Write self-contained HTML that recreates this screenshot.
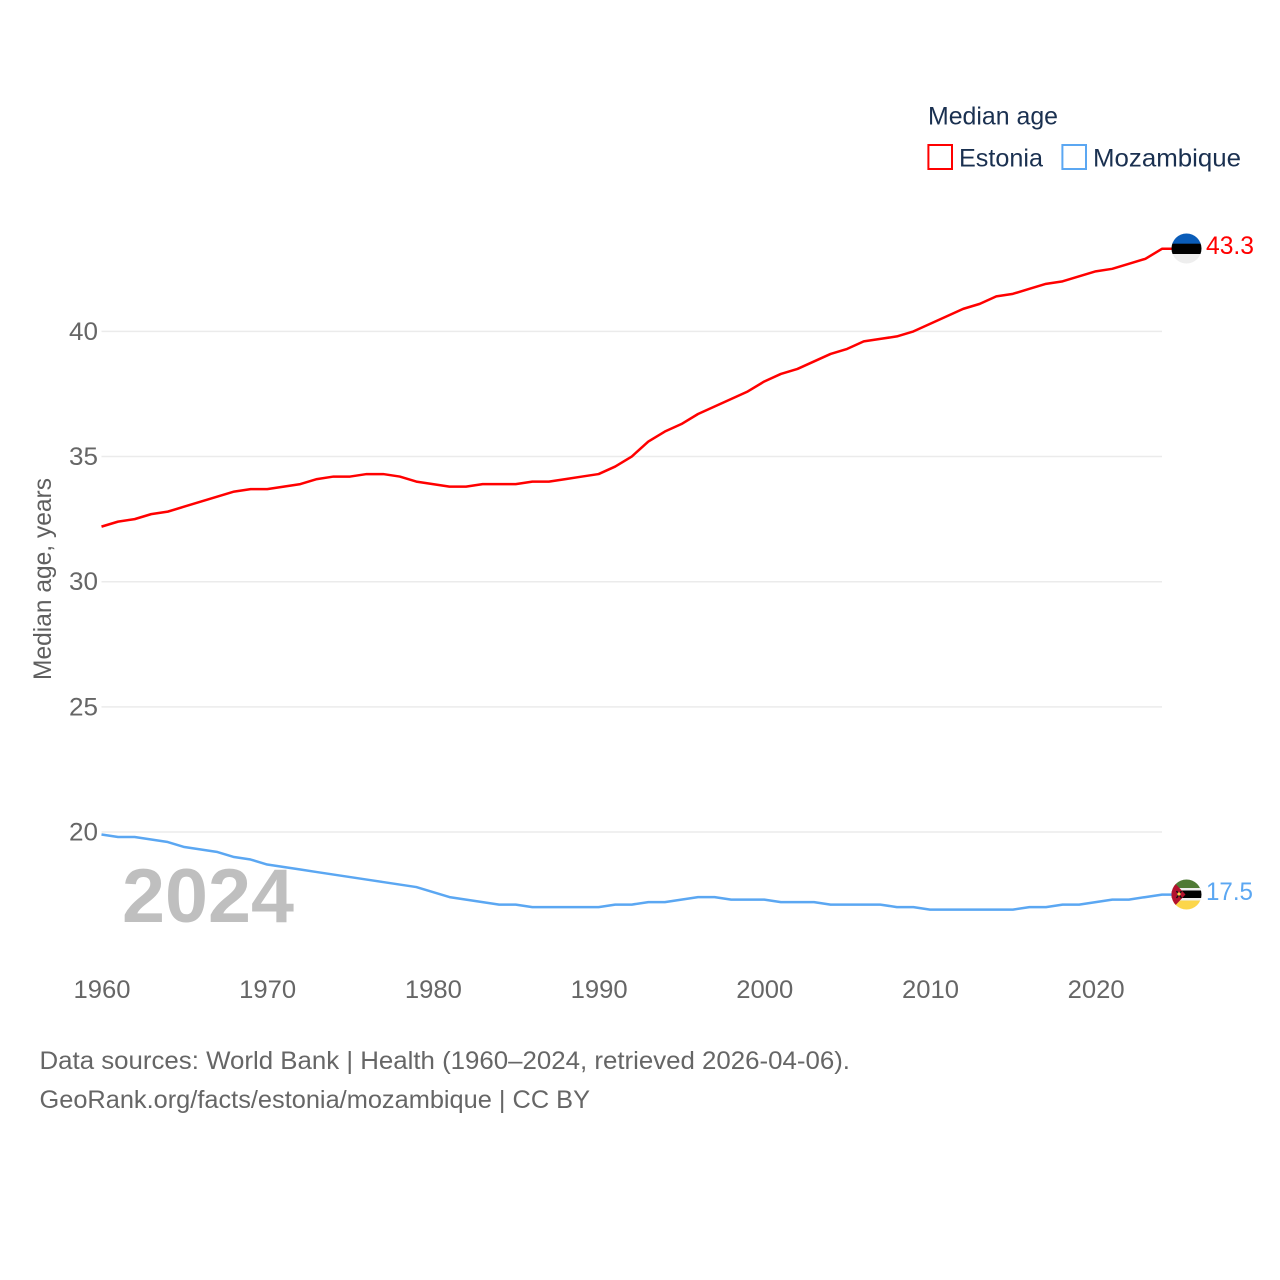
<!DOCTYPE html>
<html lang="en">
<head>
<meta charset="utf-8">
<title>Median age: Estonia and Mozambique</title>
<style>
html,body{margin:0;padding:0;background:#fff;}
svg{display:block;}
text{font-family:"Liberation Sans",sans-serif;}
</style>
</head>
<body>
<svg id="chart" xmlns="http://www.w3.org/2000/svg" width="1280" height="1280" viewBox="0 0 1280 1280">
  <rect x="0" y="0" width="1280" height="1280" fill="#fff"/>
  <defs>
    <clipPath id="clip-ee"><circle cx="1186.5" cy="248.5" r="15"/></clipPath>
    <clipPath id="clip-mz"><circle cx="1186.5" cy="894.5" r="15"/></clipPath>
  </defs>
  <g id="grid"></g>
  <g id="yticks"></g>
  <g id="xticks"></g>
  <text x="122" y="922" font-size="76" font-weight="700" fill="#bfbfbf" textLength="172" lengthAdjust="spacingAndGlyphs">2024</text>
  <g id="lines"></g>
  <text transform="translate(51 680) rotate(-90)" font-size="25" fill="#5f5f5f" textLength="202" lengthAdjust="spacingAndGlyphs">Median age, years</text>

  <text x="928" y="124.5" font-size="25" fill="#1a3050" textLength="130" lengthAdjust="spacingAndGlyphs">Median age</text>
  <g>
    <rect x="928.4" y="145" width="23.6" height="24" fill="#fff" stroke="#ff0000" stroke-width="2"/>
    <text x="959" y="166.5" font-size="25" fill="#1a3050" textLength="84" lengthAdjust="spacingAndGlyphs">Estonia</text>
  </g>
  <g>
    <rect x="1062.4" y="145" width="23.6" height="24" fill="#fff" stroke="#5ba7f2" stroke-width="2"/>
    <text x="1093" y="166.5" font-size="25" fill="#1a3050" textLength="148" lengthAdjust="spacingAndGlyphs">Mozambique</text>
  </g>

  <g clip-path="url(#clip-ee)">
    <rect x="1171" y="233" width="31" height="11" fill="#0a5cb8"/>
    <rect x="1171" y="243.7" width="31" height="10.3" fill="#000"/>
    <rect x="1171" y="254" width="31" height="10" fill="#eeeeee"/>
  </g>
  <g clip-path="url(#clip-mz)">
    <rect x="1171" y="879" width="31" height="10" fill="#4f7a35"/>
    <rect x="1171" y="888" width="31" height="3" fill="#eeeeee"/>
    <rect x="1171" y="890.5" width="31" height="7.5" fill="#000"/>
    <rect x="1171" y="898" width="31" height="3" fill="#eeeeee"/>
    <rect x="1171" y="900.5" width="31" height="10" fill="#fcd64a"/>
    <polygon points="1171,879 1185.5,894.5 1171,910" fill="#b3112e"/>
    <path d="M1176.5 891l5 7M1181.5 891l-5 7" stroke="#111" stroke-width="1.4" fill="none"/>
    <circle cx="1179" cy="894" r="1.6" fill="#fcd64a"/>
  </g>
  <text x="1206" y="254" font-size="25" fill="#ff0000" textLength="48" lengthAdjust="spacingAndGlyphs">43.3</text>
  <text x="1206" y="900" font-size="25" fill="#5ba7f2" textLength="47" lengthAdjust="spacingAndGlyphs">17.5</text>

  <text x="39.5" y="1069" font-size="25" fill="#666666" textLength="810.5" lengthAdjust="spacingAndGlyphs">Data sources: World Bank | Health (1960–2024, retrieved 2026-04-06).</text>
  <text x="39.5" y="1108" font-size="25" fill="#666666" textLength="550.5" lengthAdjust="spacingAndGlyphs">GeoRank.org/facts/estonia/mozambique | CC BY</text>
</svg>
<script>
var startYear = 1960;
var estonia = [32.2,32.4,32.5,32.7,32.8,33.0,33.2,33.4,33.6,33.7,33.7,33.8,33.9,34.1,34.2,34.2,34.3,34.3,34.2,34.0,33.9,33.8,33.8,33.9,33.9,33.9,34.0,34.0,34.1,34.2,34.3,34.6,35.0,35.6,36.0,36.3,36.7,37.0,37.3,37.6,38.0,38.3,38.5,38.8,39.1,39.3,39.6,39.7,39.8,40.0,40.3,40.6,40.9,41.1,41.4,41.5,41.7,41.9,42.0,42.2,42.4,42.5,42.7,42.9,43.3];
var mozambique = [19.9,19.8,19.8,19.7,19.6,19.4,19.3,19.2,19.0,18.9,18.7,18.6,18.5,18.4,18.3,18.2,18.1,18.0,17.9,17.8,17.6,17.4,17.3,17.2,17.1,17.1,17.0,17.0,17.0,17.0,17.0,17.1,17.1,17.2,17.2,17.3,17.4,17.4,17.3,17.3,17.3,17.2,17.2,17.2,17.1,17.1,17.1,17.1,17.0,17.0,16.9,16.9,16.9,16.9,16.9,16.9,17.0,17.0,17.1,17.1,17.2,17.3,17.3,17.4,17.5];
var yTickValues = [20,25,30,35,40];
var xTickValues = [1960,1970,1980,1990,2000,2010,2020];

var NS = 'http://www.w3.org/2000/svg';
function xScale(year){ return 101.5 + (year - 1960) * 16.57; }
function yScale(v){ return 832 + (20 - v) * 25.03; }

var gridGroup = document.getElementById('grid');
var yGroup = document.getElementById('yticks');
var xGroup = document.getElementById('xticks');
var lineGroup = document.getElementById('lines');

yTickValues.forEach(function(v){
  var ln = document.createElementNS(NS,'line');
  
  
  ln.setAttribute('x1', 101.5);
  ln.setAttribute('x2', 1162);
  ln.setAttribute('y1', yScale(v));
  ln.setAttribute('y2', yScale(v));
  ln.setAttribute('stroke', '#ebebeb');
  ln.setAttribute('stroke-width', 1.5);
  gridGroup.appendChild(ln);

  var t = document.createElementNS(NS,'text');
  
  
  t.setAttribute('x', 69);
  t.setAttribute('y', yScale(v) + 8.5);
  t.setAttribute('font-size', 25);
  t.setAttribute('fill', '#666666');
  t.setAttribute('textLength', 29);
  t.setAttribute('lengthAdjust', 'spacingAndGlyphs');
  t.textContent = String(v);
  yGroup.appendChild(t);
});

xTickValues.forEach(function(y){
  var t = document.createElementNS(NS,'text');
  
  
  t.setAttribute('x', xScale(y) - 28);
  t.setAttribute('y', 998);
  t.setAttribute('font-size', 25);
  t.setAttribute('fill', '#666666');
  t.setAttribute('textLength', 57);
  t.setAttribute('lengthAdjust', 'spacingAndGlyphs');
  t.textContent = String(y);
  xGroup.appendChild(t);
});

function pathFor(values){
  var pts = values.map(function(v,i){
    return xScale(startYear + i).toFixed(2) + ',' + yScale(v).toFixed(2);
  });
  var last = values[values.length - 1];
  pts.push('1172,' + yScale(last).toFixed(2));
  return 'M' + pts.join('L');
}

var estoniaLine = document.createElementNS(NS,'path');


estoniaLine.setAttribute('d', pathFor(estonia));
estoniaLine.setAttribute('fill', 'none');
estoniaLine.setAttribute('stroke', '#ff0000');
estoniaLine.setAttribute('stroke-width', 2.5);
estoniaLine.setAttribute('stroke-linejoin', 'round');
lineGroup.appendChild(estoniaLine);

var mozambiqueLine = document.createElementNS(NS,'path');


mozambiqueLine.setAttribute('d', pathFor(mozambique));
mozambiqueLine.setAttribute('fill', 'none');
mozambiqueLine.setAttribute('stroke', '#5ba7f2');
mozambiqueLine.setAttribute('stroke-width', 2.5);
mozambiqueLine.setAttribute('stroke-linejoin', 'round');
lineGroup.appendChild(mozambiqueLine);
</script>
</body>
</html>
